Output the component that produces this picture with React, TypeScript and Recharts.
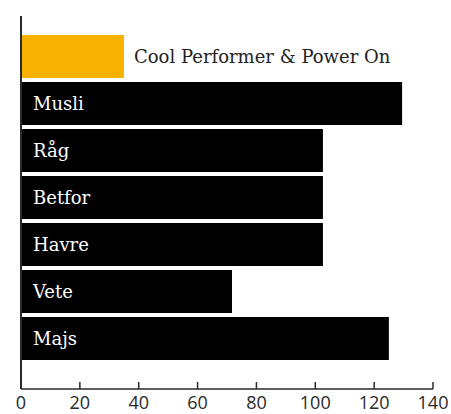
import { Bar, BarChart, Cell, LabelList, XAxis, YAxis } from "recharts"

const products = ["Cool Performer & Power On", "Musli", "Råg", "Betfor", "Havre", "Vete", "Majs"]
const values = [35, 129.5, 102.6, 102.6, 102.6, 71.7, 125]
const xTicks = [0, 20, 40, 60, 80, 100, 120, 140]

// first row is the highlighted product, the rest are plain cereals
const HIGHLIGHT = "#f9b100"
const INK = "#000000"
const AXIS = "#2a2a2a"
const LABEL_FONT = "'DejaVu Serif', serif"

const data = products.map((name, i) => ({ name, value: values[i] }))

function BottomTick({ x, y, payload }: any) {
  return (
    <g>
      <line x1={x} x2={x} y1={y - 7} y2={y} stroke={AXIS} strokeWidth={1.5} />
      <text
        x={x}
        y={y + 20}
        textAnchor="middle"
        fill={AXIS}
        fontSize={18}
        fontFamily="'Open Sans', sans-serif"
      >
        {payload.value}
      </text>
    </g>
  )
}

function BarLabel({ x, y, width, height, value, index }: any) {
  const outside = index === 0
  return (
    <text
      x={outside ? x + width + 10 : x + 12}
      y={y + height / 2}
      dominantBaseline="central"
      fill={outside ? "#222222" : "#ffffff"}
      fontSize={18}
      fontFamily={LABEL_FONT}
    >
      {value}
    </text>
  )
}

export default function App() {
  return (
    <div style={{ position: "absolute", left: 0, top: 0, background: "#fff" }}>
      <BarChart
        width={451}
        height={414}
        data={data}
        layout="vertical"
        margin={{ top: 16, right: 18, left: 20, bottom: 0 }}
        barCategoryGap={2}
      >
        <XAxis
          type="number"
          domain={[0, 140]}
          ticks={xTicks}
          interval={0}
          height={25}
          tickSize={0}
          tickMargin={0}
          tickLine={false}
          tick={<BottomTick />}
          axisLine={{ stroke: AXIS, strokeWidth: 1.5 }}
        />
        <Bar dataKey="value" isAnimationActive={false}>
          {data.map((d, i) => (
            <Cell key={d.name} fill={i === 0 ? HIGHLIGHT : INK} />
          ))}
          <LabelList dataKey="name" content={<BarLabel />} />
        </Bar>
        <YAxis
          type="category"
          dataKey="name"
          width={1}
          tick={false}
          tickLine={false}
          axisLine={{ stroke: AXIS, strokeWidth: 2 }}
          padding={{ top: 17, bottom: 27 }}
        />
      </BarChart>
    </div>
  )
}
